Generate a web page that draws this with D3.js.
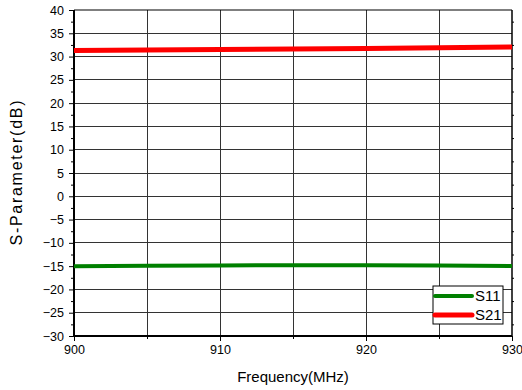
<!DOCTYPE html>
<html>
<head>
<meta charset="utf-8">
<script src="https://cdn.jsdelivr.net/npm/d3@7"></script>
<style>
  html, body { margin: 0; padding: 0; background: #fff; }
  svg { display: block; font-family: Arial, "Liberation Sans", sans-serif; }
</style>
</head>
<body>
<svg id="chart" width="522" height="390"></svg>
<script>
// Frequency sweep (MHz) and measured S-parameters (dB)
const freqs = [900, 905, 910, 915, 920, 925, 930];
const s11 = [-15.0, -14.9, -14.85, -14.8, -14.8, -14.85, -14.95];
const s21 = [31.3, 31.4, 31.5, 31.6, 31.75, 31.9, 32.05];
const seriesNames = ["S11", "S21"];
const seriesColors = ["#008000", "#ff0000"];
const xTicks = [900, 910, 920, 930];
const yTicks = d3.range(-30, 41, 5);

const svg = d3.select("#chart");
const m = { left: 74, right: 10, top: 10, bottom: 54 };
const W = 522, H = 390;
const x = d3.scaleLinear().domain([900, 930]).range([m.left, W - m.right]);
const y = d3.scaleLinear().domain([-30, 40]).range([H - m.bottom, m.top]);
const FONT = "Arial, 'Liberation Sans', sans-serif";

// grid
const grid = svg.append("g").attr("stroke", "#333").attr("stroke-width", 1).attr("shape-rendering", "crispEdges");
grid.selectAll(".gx").data(d3.range(905, 930, 5)).join("line")
  .attr("x1", d => x(d)).attr("x2", d => x(d)).attr("y1", y(-30)).attr("y2", y(40));
grid.selectAll(".gy").data(d3.range(-25, 40, 5)).join("line")
  .attr("y1", d => y(d)).attr("y2", d => y(d)).attr("x1", x(900)).attr("x2", x(930));

// left axis: major + minor ticks
const yAxis = d3.axisLeft(y).tickValues(yTicks).tickSize(5).tickPadding(5).tickFormat(d3.format("d"));
const gy = svg.append("g").attr("transform", `translate(${m.left},0)`).call(yAxis);
gy.selectAll("line").attr("stroke", "#000");
gy.select(".domain").remove();
gy.selectAll("text").attr("font-size", 12.5).attr("fill", "#000").attr("font-family", FONT);
svg.append("g").attr("transform", `translate(${m.left},0)`)
  .call(d3.axisLeft(y).tickValues(d3.range(-27.5, 40, 5)).tickSize(3).tickFormat(""))
  .call(g => g.select(".domain").remove());

// right minor ticks
svg.append("g").attr("transform", `translate(${W - m.right},0)`)
  .call(d3.axisRight(y).tickValues(d3.range(-27.5, 40, 5)).tickSize(2).tickFormat(""))
  .call(g => g.select(".domain").remove());

// bottom axis
const xAxis = d3.axisBottom(x).tickValues(xTicks).tickSize(5).tickPadding(4).tickFormat(d3.format("d"));
const gx = svg.append("g").attr("transform", `translate(0,${y(-30)})`).call(xAxis);
gx.select(".domain").remove();
gx.selectAll("text").attr("font-size", 12.5).attr("fill", "#000").attr("font-family", FONT);
svg.append("g").attr("transform", `translate(0,${y(-30)})`)
  .call(d3.axisBottom(x).tickValues([905, 915, 925]).tickSize(3).tickFormat(""))
  .call(g => g.select(".domain").remove());

// frame
svg.append("line").attr("x1", x(900)).attr("x2", x(930)).attr("y1", y(40)).attr("y2", y(40)).attr("stroke", "#000").attr("stroke-width", 1.2);
svg.append("line").attr("x1", x(930)).attr("x2", x(930)).attr("y1", y(40)).attr("y2", y(-30)).attr("stroke", "#000").attr("stroke-width", 1.5);
svg.append("line").attr("x1", x(900)).attr("x2", x(900)).attr("y1", y(40)).attr("y2", y(-30) + 1).attr("stroke", "#000").attr("stroke-width", 2);
svg.append("line").attr("x1", x(900) - 1).attr("x2", x(930)).attr("y1", y(-30)).attr("y2", y(-30)).attr("stroke", "#000").attr("stroke-width", 2);

// series
const line = d3.line().x((d, i) => x(freqs[i])).y(d => y(d));
const series = [s11, s21];
const widths = [4, 5];
series.forEach((s, k) => {
  svg.append("path").datum(s).attr("d", line).attr("fill", "none")
    .attr("stroke", seriesColors[k]).attr("stroke-width", widths[k]);
});

// legend
const lg = svg.append("g").attr("transform", "translate(433,286)");
lg.append("rect").attr("width", 70).attr("height", 38).attr("fill", "#fff").attr("stroke", "#000").attr("stroke-width", 1);
seriesNames.forEach((n, k) => {
  const yy = 10 + k * 19;
  lg.append("line").attr("x1", 2).attr("x2", 39).attr("y1", yy).attr("y2", yy)
    .attr("stroke", seriesColors[k]).attr("stroke-width", widths[k]).attr("stroke-linecap", "round");
  lg.append("text").attr("x", 42).attr("y", yy + 5).attr("font-size", 15).text(n);
});

// axis titles
svg.append("text").attr("x", (x(900) + x(930)) / 2).attr("y", 382).attr("text-anchor", "middle")
  .attr("font-size", 15).text("Frequency(MHz)");
svg.append("text").attr("transform", `translate(22,${(y(40) + y(-30)) / 2}) rotate(-90)`)
  .attr("text-anchor", "middle").attr("font-size", 16)
  .attr("textLength", 145).attr("lengthAdjust", "spacing").text("S-Parameter(dB)");
</script>
</body>
</html>
